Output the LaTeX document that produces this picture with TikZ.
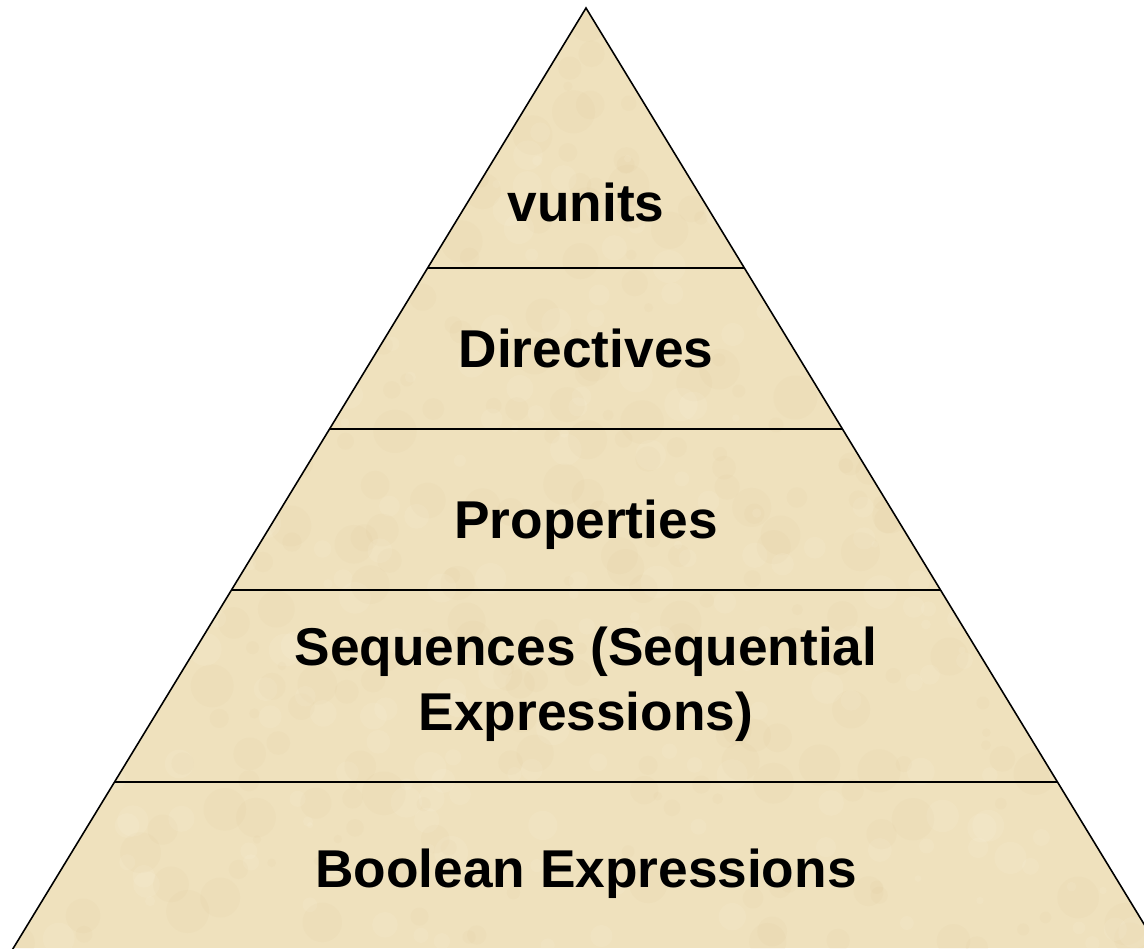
\documentclass[tikz,border=0pt]{standalone}
\usepackage{fontspec}
\setmainfont{Liberation Sans}
\definecolor{parch}{RGB}{239,225,189}
\definecolor{parchdark}{RGB}{212,186,134}
\definecolor{parchlight}{RGB}{252,245,226}
\begin{document}
\begin{tikzpicture}[x=0.02cm,y=-0.02cm,
  edge/.style={draw=black,line width=0.9pt,line join=miter},
  tier/.style={font=\fontsize{30.3}{36}\selectfont\bfseries,anchor=base,inner sep=0pt}]
\useasboundingbox (0,0) rectangle (1144,948);
\clip (0,0) rectangle (1144,948);
% pyramid outline corners
\coordinate (apex) at (586,8);
\coordinate (bl) at (0,970);
\coordinate (br) at (1172,970);
% parchment fill with a soft mottled texture
\begin{scope}
  \clip (apex) -- (bl) -- (br) -- cycle;
  \fill[parch] (0,0) rectangle (1144,948);
  \pgfmathsetseed{11}
  \foreach \i in {1,...,420} {
    \pgfmathsetmacro{\px}{rnd*1144}
    \pgfmathsetmacro{\py}{rnd*948}
    \pgfmathsetmacro{\pr}{4+rnd*18}
    \fill[parchdark,opacity=0.07] (\px,\py) circle[radius=\pr];
  }
  \foreach \i in {1,...,360} {
    \pgfmathsetmacro{\px}{rnd*1144}
    \pgfmathsetmacro{\py}{rnd*948}
    \pgfmathsetmacro{\pr}{3+rnd*14}
    \fill[parchlight,opacity=0.12] (\px,\py) circle[radius=\pr];
  }
\end{scope}
% outline and tier dividers
\draw[edge] (bl) -- (apex) -- (br);
\coordinate (l1) at (427.5,268); \coordinate (r1) at (744.5,268);
\coordinate (l2) at (329,429);   \coordinate (r2) at (843,429);
\coordinate (l3) at (231,590);   \coordinate (r3) at (941,590);
\coordinate (l4) at (114,782);   \coordinate (r4) at (1058,782);
\draw[edge] (l1) -- (r1);
\draw[edge] (l2) -- (r2);
\draw[edge] (l3) -- (r3);
\draw[edge] (l4) -- (r4);
% tier labels
\node[tier] (vunits) at (586,221) {vunits};
\node[tier] (directives) at (586,367) {Directives};
\node[tier] (properties) at (586,538) {Properties};
\node[tier] (seqa) at (586,665) {Sequences (Sequential};
\node[tier] (seqb) at (586,730) {Expressions)};
\node[tier] (boolean) at (586,887) {Boolean Expressions};
\end{tikzpicture}
\end{document}
